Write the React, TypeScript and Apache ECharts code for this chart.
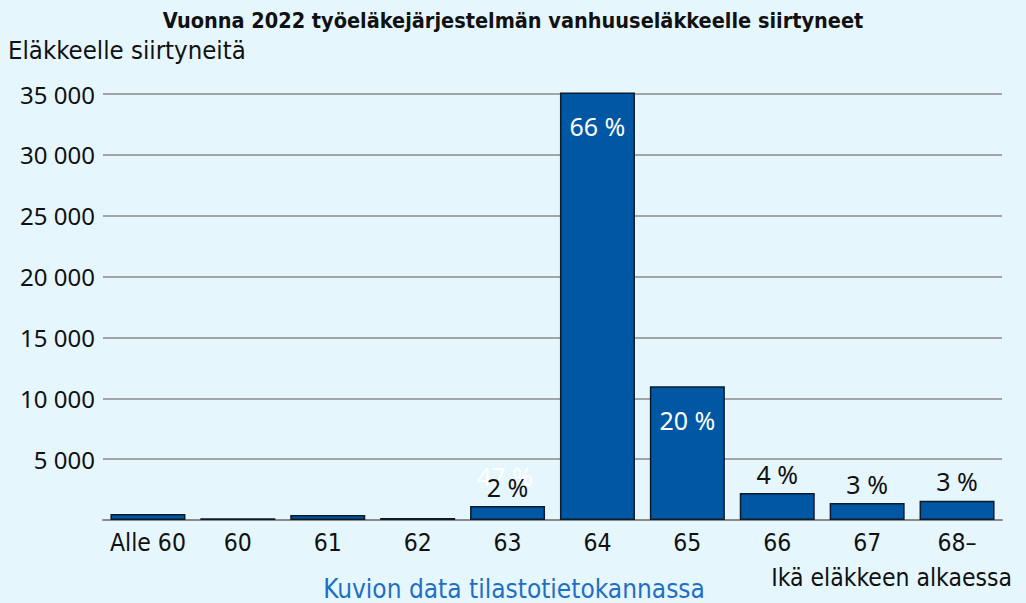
import React, { useEffect, useRef } from "react";
import * as echarts from "echarts";

const categories = ["Alle 60", "60", "61", "62", "63", "64", "65", "66", "67", "68–"];
const values = [490, 140, 410, 165, 1150, 35130, 10990, 2215, 1395, 1585];
const percentLabels = ["", "", "", "", "2 %", "66 %", "20 %", "4 %", "3 %", "3 %"];
const insideBars = [false, false, false, false, false, true, true, false, false, false];
const yTicks = [0, 5000, 10000, 15000, 20000, 25000, 30000, 35000];

const NARROW = "'DejaVu Sans Condensed', 'Liberation Sans Narrow', 'Noto Sans', sans-serif";
const SANS = "'Noto Sans', 'Open Sans', sans-serif";

export default function App() {
  const ref = useRef<HTMLDivElement>(null);
  useEffect(() => {
    document.body.style.margin = "0";
    const chart = echarts.init(ref.current!, null, { renderer: "svg" });
    const data = values.map((v, i) => ({
      value: v,
      label: insideBars[i]
        ? { show: true, position: "insideTop", distance: 21, color: "#ffffff" }
        : { show: percentLabels[i] !== "", position: "top", distance: 7, color: "#111111" },
    }));
    chart.setOption({
      animation: false,
      backgroundColor: "#E6F6FD",
      title: {
        text: "Vuonna 2022 työeläkejärjestelmän vanhuuseläkkeelle siirtyneet",
        left: "center",
        top: 4,
        textStyle: { fontFamily: NARROW, fontWeight: "bold", fontSize: 21.5, color: "#111" },
      },
      grid: { left: 103, right: 24, top: 94, bottom: 83 },
      xAxis: {
        type: "category",
        data: categories,
        axisTick: { show: false },
        axisLine: { lineStyle: { color: "#8a8a8a", width: 2 } },
        axisLabel: { fontFamily: NARROW, fontSize: 24.5, color: "#111", margin: 10, interval: 0, hideOverlap: false },
      },
      yAxis: {
        type: "value",
        min: 0,
        max: yTicks[yTicks.length - 1],
        interval: 5000,
        axisLine: { show: false },
        axisTick: { show: false },
        splitLine: { lineStyle: { color: "#8a8a8a", width: 1.5 } },
        axisLabel: {
          fontFamily: SANS,
          fontSize: 24,
          color: "#111",
          margin: 8,
          formatter: (v: number) => (v === 0 ? "" : String(v).replace(/\B(?=(\d{3})+(?!\d))/g, " ")),
        },
      },
      series: [
        {
          type: "bar",
          data,
          clip: false,
          barWidth: 75,
          itemStyle: { color: "#0057A3", borderColor: "#0b1b2b", borderWidth: 1.5 },
          label: {
            fontFamily: SANS,
            fontSize: 25,
            formatter: (p: any) => percentLabels[p.dataIndex],
          },
        },
      ],
      graphic: [
        {
          type: "text",
          x: 8,
          y: 50,
          style: { text: "Eläkkeelle siirtyneitä", fontFamily: NARROW, fontSize: 25.5, fill: "#111", verticalAlign: "middle" },
        },
        {
          type: "text",
          x: 1012,
          y: 577,
          style: { text: "Ikä eläkkeen alkaessa", fontFamily: NARROW, fontSize: 24.5, fill: "#111", align: "right", verticalAlign: "middle" },
        },
        {
          type: "text",
          x: 514,
          y: 589,
          style: { text: "Kuvion data tilastotietokannassa", fontFamily: NARROW, fontSize: 26, fill: "#1f6fc4", align: "center", verticalAlign: "middle" },
        },
        {
          type: "text",
          x: 505,
          y: 476,
          style: { text: "47 %", fontFamily: SANS, fontSize: 25, fill: "#ffffff", align: "center", verticalAlign: "middle" },
        },
      ],
    });
    return () => chart.dispose();
  }, []);
  return <div ref={ref} style={{ width: 1026, height: 603 }} />;
}
